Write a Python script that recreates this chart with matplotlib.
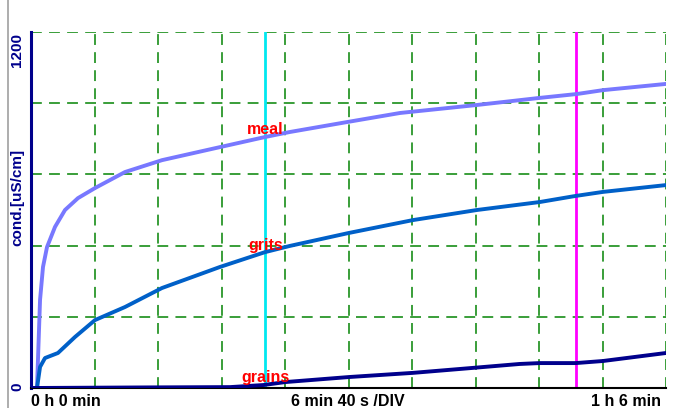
import matplotlib
matplotlib.use("Agg")
import matplotlib.pyplot as plt
from matplotlib.lines import Line2D

# time in minutes, conductivity in uS/cm
meal_t = [0, 0.63, 0.95, 1.26, 1.68, 2.52, 3.57, 4.93, 6.72, 9.87, 13.75, 19.84, 24.57,
          27.19, 33.28, 38.74, 46.82, 53.44, 57.32, 60.05, 66.67]
meal_v = [0, 0, 297, 408, 475, 543, 600, 640, 674, 728, 768, 812, 846,
          863, 897, 927, 954, 978, 991, 1004, 1025]

grits_t = [0, 0.63, 0.95, 1.47, 2.83, 4.62, 6.72, 9.87, 13.75, 19.84, 24.57, 27.19,
           33.28, 40.1, 46.82, 53.44, 57.1, 60.05, 66.67]
grits_v = [0, 0, 71, 101, 118, 172, 229, 273, 337, 408, 458, 479,
           522, 566, 600, 627, 647, 661, 684]

grains_t = [0, 12.5, 20.9, 24.4, 26.7, 33.4, 40.1, 46.1, 51.3, 53.4, 57.2, 60.05, 66.67]
grains_v = [0, 2, 3, 10, 20, 37, 51, 67, 81, 84, 84, 91, 118]

cursor1_t = 24.6
cursor2_t = 57.2

x_max = 66.667
y_max = 1200
x_div = 10
y_div = 5

x_labels = ["0 h 0 min", "6 min 40 s /DIV", "1 h 6 min"]
y_labels = ["1200", "0"]
y_title = "cond.[uS/cm]"
series_labels = ["meal", "grits", "grains"]
label_v = [873, 482, 37]

W, H = 683, 408
fig = plt.figure(figsize=(W / 100, H / 100), dpi=100)
fig.patch.set_facecolor("white")
x0, x1, y0, y1 = 31, 666, 388, 32
ax = fig.add_axes([x0 / W, 1 - y0 / H, (x1 - x0) / W, (y0 - y1) / H])
ax.set_xlim(0, x_max)
ax.set_ylim(0, y_max)
ax.set_facecolor("white")

grid_kw = dict(color="#2a962a", lw=1.3, ls=(0, (6, 4)), zorder=1)
for i in range(1, x_div + 1):
    ax.axvline(x_max * i / x_div, **grid_kw)
for j in range(1, y_div + 1):
    ax.axhline(y_max * j / y_div, **grid_kw)

ax.axvline(cursor1_t, color="#00e8f0", lw=2, zorder=2)
ax.axvline(cursor2_t, color="#ff00ff", lw=2, zorder=2)

ax.plot(meal_t, meal_v, color="#7878ff", lw=2.8, zorder=3, solid_joinstyle="round")
ax.plot(grits_t, grits_v, color="#0060c8", lw=2.8, zorder=3, solid_joinstyle="round")
ax.plot(grains_t, grains_v, color="#00008c", lw=2.8, zorder=3, solid_joinstyle="round")

for name, v in zip(series_labels, label_v):
    ax.text(cursor1_t, v, name, color="#ff0000", fontsize=11.5, fontweight="bold",
            family="Liberation Sans", ha="center", va="center", zorder=5)

for s in ["top", "right"]:
    ax.spines[s].set_visible(False)
ax.spines["left"].set_color("#00008c")
ax.spines["left"].set_linewidth(2.2)
ax.spines["bottom"].set_color("black")
ax.spines["bottom"].set_linewidth(1.5)
ax.set_xticks([])
ax.set_yticks([])

fkw = dict(fontsize=11.5, fontweight="bold", family="Liberation Sans")
fig.text(31 / W, 1 - 401 / H, x_labels[0], ha="left", va="center", color="black", **fkw)
fig.text(348 / W, 1 - 401 / H, x_labels[1], ha="center", va="center", color="black", **fkw)
fig.text(661 / W, 1 - 401 / H, x_labels[2], ha="right", va="center", color="black", **fkw)

ykw = dict(fontsize=11, fontweight="bold", family="Liberation Sans", color="#00008c", rotation=90)
fig.text(17 / W, 1 - 33 / H, y_labels[0], ha="center", va="top", **ykw)
fig.text(17 / W, 1 - 387 / H, y_labels[1], ha="center", va="center", **ykw)
fig.text(17 / W, 1 - 197 / H, y_title, ha="center", va="center", **ykw)

fig.add_artist(Line2D([8 / W, 8 / W], [0, 1], transform=fig.transFigure, color="#a0a0a0", lw=1.2))

fig.savefig("out.png", dpi=100, facecolor="white")
